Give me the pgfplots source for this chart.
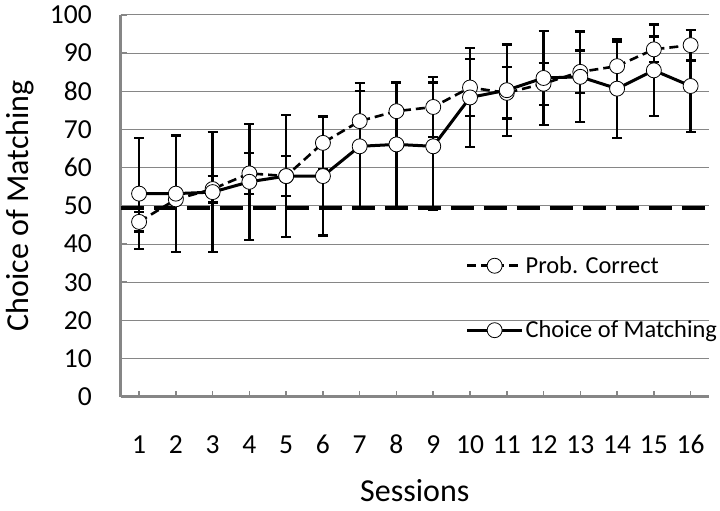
\documentclass[border=0pt]{standalone}
\usepackage{pgfplots}
\pgfplotsset{compat=1.18}
\usepackage{pgfplotstable}
\usepackage{fontspec}
\setmainfont{Carlito}
\definecolor{axgray}{RGB}{134,134,134}

\pgfplotstableread{
s  p     pe   c     ce
1  45.8  2.5  53.2  14.5
2  51.7  1.5  53.2  15.2
3  54.4  3.5  53.6  15.7
4  58.5  5.4  56.3  15.2
5  57.8  5.2  57.8  16.0
6  66.5  6.8  57.8  15.6
7  72.2  7.9  65.6  16.5
8  74.8  7.5  66.1  16.4
9  75.9  7.9  65.6  16.7
10 81.0  7.5  78.4  13.0
11 79.6  6.7  80.3  12.0
12 82.0  5.5  83.5  12.3
13 85.1  5.6  83.8  11.9
14 86.6  6.3  80.7  12.9
15 91.0  3.4  85.5  12.0
16 92.1  4.0  81.4  12.0
}\datatable

\begin{document}
\begin{tikzpicture}
\begin{axis}[
  name=ax,
  at={(0,0)}, anchor=south west,
  scale only axis,
  width=588.3pt, height=381.7pt,
  xmin=0.5, xmax=16.5, ymin=0, ymax=100,
  xtick={1,...,16}, ytick={0,10,...,100},
  axis x line=bottom, axis y line=left,
  axis line style={-, draw=axgray, line width=2.5pt},
  tick align=inside,
  major tick length=6pt,
  tick style={draw=axgray, line width=1.5pt},
  ymajorgrids,
  grid style={draw=axgray, line width=1pt},
  /pgf/number format/assume math mode=true,
  ticklabel style={font=\fontsize{27.5}{30}\selectfont},
  xticklabel style={anchor=base, inner sep=0pt, yshift=-56.3pt},
  yticklabel style={anchor=east, inner sep=0pt, xshift=-28.7pt},
  xlabel={Sessions},
  ylabel={Choice of Matching},
  label style={font=\fontsize{32}{36}\selectfont},
  xlabel style={at={(axis description cs:0.5,0)}, anchor=base, inner sep=0pt, yshift=-105pt},
  ylabel style={at={(axis description cs:0,0.5)}, anchor=center, inner sep=0pt, rotate=0, xshift=0pt, yshift=101pt},
  legend style={draw=none, fill=none, at={(axis description cs:0.586,0.373)}, anchor=north west,
    font=\fontsize{24.4}{27}\selectfont, row sep=42pt, inner sep=0pt},
  legend cell align=left,
  legend image code/.code={\draw[mark repeat=2,mark phase=2,#1] plot coordinates {(0pt,0pt)(27.5pt,0pt)(55pt,0pt)};},
  clip=false,
]
% chance line
\addplot[forget plot, black, line width=4pt, dash pattern=on 23pt off 10pt] coordinates {(0.5,49.5) (16.5,49.5)};
% error bars
\addplot[forget plot, draw=none, mark=none,
  error bars/.cd, y dir=both, y explicit,
  error bar style={draw=black, solid, line width=2.3pt},
  error mark options={rotate=90, mark size=5pt, draw=black, line width=2.3pt}]
  table[x=s, y=c, y error=ce] {\datatable};
\addplot[forget plot, draw=none, mark=none,
  error bars/.cd, y dir=both, y explicit,
  error bar style={draw=black, solid, line width=2.3pt},
  error mark options={rotate=90, mark size=5pt, draw=black, line width=2.3pt}]
  table[x=s, y=p, y error=pe] {\datatable};
% series
\addplot[black, line width=2.6pt, dash pattern=on 9pt off 5pt, mark=*, mark size=7.5pt,
  mark options={solid, fill=white, draw=black, line width=0.8pt}]
  table[x=s, y=p] {\datatable};
\addlegendentry{Prob. Correct}
\addplot[black, line width=3pt, mark=*, mark size=7.5pt,
  mark options={solid, fill=white, draw=black, line width=0.8pt}]
  table[x=s, y=c] {\datatable};
\addlegendentry{Choice of Matching}
\end{axis}
\pgfresetboundingbox
\path[use as bounding box] (-120.7pt,-114.3pt) rectangle (599.3pt,396.7pt);
\end{tikzpicture}
\end{document}
